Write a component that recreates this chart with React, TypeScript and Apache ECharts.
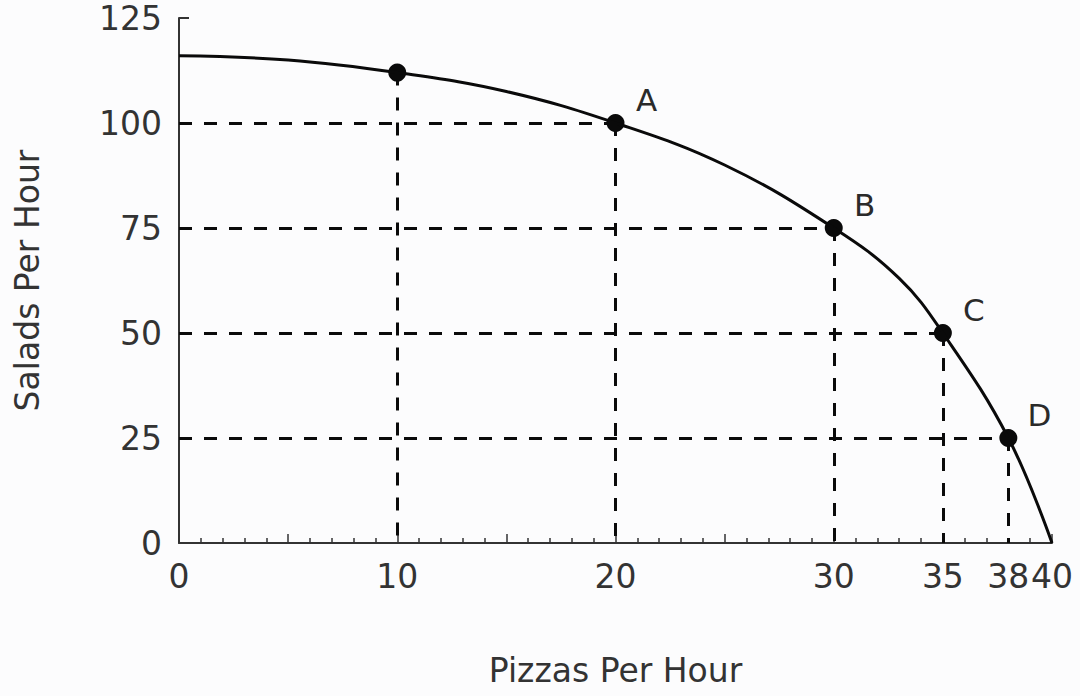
import React, { useEffect, useRef } from "react";
import * as echarts from "echarts";

// PPF curve (pizzas, salads)
const curveX = [0, 5, 10, 15, 20, 25, 30, 33, 35, 38, 40];
const curveY = [116, 115, 112, 107.5, 100, 90, 75, 63, 50, 25, 0];

// marked points
const pointX = [10, 20, 30, 35, 38];
const pointY = [112, 100, 75, 50, 25];
const pointLabels = ["", "A", "B", "C", "D"];
const hasHorizontalGuide = [false, true, true, true, true];

// tick labels
const xTickLabels = [0, 10, 20, 30, 35, 38, 40];
const yTickLabels = [0, 25, 50, 75, 100, 125];

const FONT = "DejaVu Sans";
const TEXT = "#333333";
const INK = "#0a0a0a";

export default function App() {
  const ref = useRef<HTMLDivElement>(null);
  useEffect(() => {
    if (!ref.current) return;
    const chart = echarts.init(ref.current, null, { renderer: "svg" });

    const guideLines: any[] = [];
    pointX.forEach((x, i) => {
      const y = pointY[i];
      if (hasHorizontalGuide[i]) {
        guideLines.push([{ coord: [0, y] }, { coord: [x, y] }]);
      }
      guideLines.push([{ coord: [x, y] }, { coord: [x, 0] }]);
    });

    chart.setOption({
      animation: false,
      backgroundColor: "#fcfcfd",
      grid: { left: 179, right: 28, top: 18, bottom: 153, containLabel: false },
      xAxis: {
        type: "value",
        min: 0,
        max: 40,
        interval: 5,
        name: "Pizzas Per Hour",
        nameLocation: "middle",
        nameGap: 111,
        nameTextStyle: { fontFamily: FONT, fontSize: 33, color: TEXT },
        axisLine: { show: true, onZero: false, lineStyle: { color: "#333", width: 2 } },
        axisTick: { show: true, inside: true, length: 9, lineStyle: { color: "#333", width: 1.5 } },
        minorTick: { show: true, splitNumber: 5, length: 5, lineStyle: { color: "#333", width: 1.5 } },
        splitLine: { show: false },
        axisLabel: {
          customValues: xTickLabels,
          margin: 17,
          fontFamily: FONT,
          fontSize: 33,
          color: TEXT,
        },
      },
      yAxis: {
        type: "value",
        min: 0,
        max: 125,
        interval: 25,
        name: "Salads Per Hour",
        nameLocation: "middle",
        nameGap: 135,
        nameTextStyle: { fontFamily: FONT, fontSize: 33, color: TEXT },
        axisLine: { show: true, onZero: false, lineStyle: { color: "#333", width: 2 } },
        axisTick: { show: true, inside: true, length: 10, lineStyle: { color: "#333", width: 2 } },
        splitLine: { show: false },
        axisLabel: {
          customValues: yTickLabels,
          margin: 17,
          fontFamily: FONT,
          fontSize: 33,
          color: TEXT,
        },
      },
      series: [
        {
          type: "line",
          data: [],
          silent: true,
          markLine: {
            silent: true,
            symbol: ["none", "none"],
            label: { show: false },
            lineStyle: { type: [13, 12], width: 3, color: INK, opacity: 1 },
            data: guideLines,
          },
        },
        {
          type: "line",
          data: curveX.map((x, i) => [x, curveY[i]]),
          smooth: 0.4,
          showSymbol: false,
          symbol: "none",
          lineStyle: { color: INK, width: 3 },
          silent: true,
        },
        {
          type: "scatter",
          data: pointX.map((x, i) => ({ value: [x, pointY[i]], name: pointLabels[i] })),
          symbol: "circle",
          symbolSize: 18,
          itemStyle: { color: INK, opacity: 1 },
          silent: true,
          label: {
            show: true,
            position: "inside",
            offset: [31, -23],
            formatter: (p: any) => p.name,
            fontFamily: FONT,
            fontSize: 31,
            color: "#2a2a2a",
            opacity: 1,
          },
        },
      ],
    });
    return () => chart.dispose();
  }, []);
  return (
    <div
      ref={ref}
      style={{ position: "fixed", left: 0, top: 0, width: 1080, height: 696 }}
    />
  );
}
